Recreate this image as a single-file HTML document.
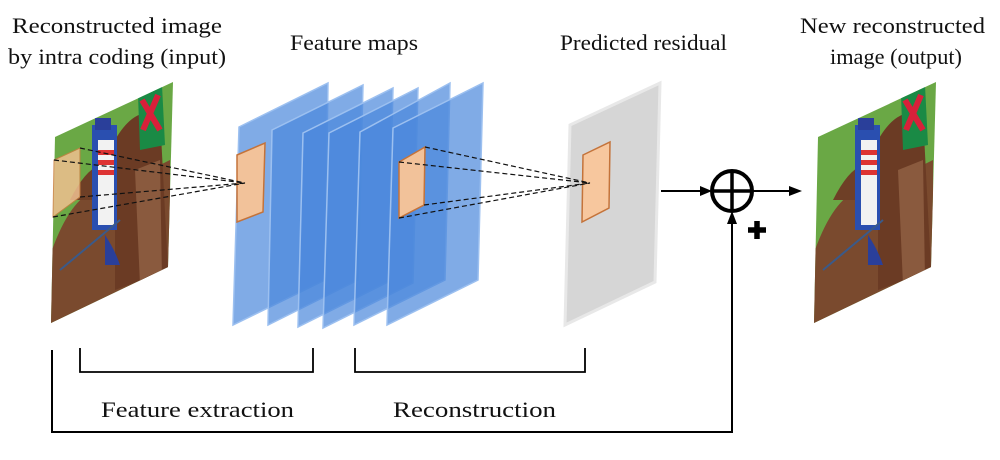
<!DOCTYPE html>
<html><head><meta charset="utf-8"><style>
html,body{margin:0;padding:0;background:#fff;}
svg{display:block;}
text{font-family:"Liberation Serif",serif;font-size:22px;fill:#111;}
</style></head><body>
<svg width="1000" height="460" viewBox="0 0 1000 460" xmlns="http://www.w3.org/2000/svg">
<defs>
<clipPath id="pc"><polygon points="55,137 173,82 168,267 51,323"/></clipPath>
<g id="img">
<g clip-path="url(#pc)">
<rect x="40" y="70" width="150" height="270" fill="#6aa845"/>
<path d="M52,250 Q70,200 95,190 L120,185 L170,160 L170,330 L50,330 Z" fill="#7a4a2e"/>
<path d="M70,200 Q85,170 100,165 L100,200 Z" fill="#6e3f26"/>
<path d="M115,140 Q135,105 160,115 L168,270 L115,290 Z" fill="#6b3b24"/>
<path d="M135,170 L160,160 L162,280 L140,285 Z" fill="#8a5a3e"/>
<rect x="92" y="125" width="25" height="105" fill="#2a4fb0"/>
<rect x="98" y="140" width="16" height="85" fill="#f2f2f2"/>
<rect x="98" y="150" width="16" height="5" fill="#d33"/>
<rect x="98" y="160" width="16" height="5" fill="#d33"/>
<rect x="98" y="170" width="16" height="5" fill="#d33"/>
<rect x="95" y="118" width="16" height="12" fill="#2a3f9a"/>
<path d="M138,95 L162,85 L165,145 L140,150 Z" fill="#1a8a45"/>
<path d="M142,100 L160,130 M158,95 L143,130" stroke="#d8203a" stroke-width="6"/>
<path d="M105,235 Q115,250 120,265 L105,265 Z" fill="#2a3f9a"/>
<path d="M60,270 L120,220" stroke="#3a5a8a" stroke-width="2"/>
</g>
</g>
</defs>

<text x="12" y="33" textLength="210" lengthAdjust="spacingAndGlyphs">Reconstructed image</text>
<text x="8" y="64" textLength="218" lengthAdjust="spacingAndGlyphs">by intra coding (input)</text>
<text x="290" y="50" textLength="128" lengthAdjust="spacingAndGlyphs">Feature maps</text>
<text x="560" y="50" textLength="167" lengthAdjust="spacingAndGlyphs">Predicted residual</text>
<text x="800" y="33" textLength="185" lengthAdjust="spacingAndGlyphs">New reconstructed</text>
<text x="830" y="64" textLength="132" lengthAdjust="spacingAndGlyphs">image (output)</text>

<use href="#img"/>
<polygon points="54,160 80,148 80,197 53,217" fill="#f0c090" opacity="0.85" stroke="#c98040" stroke-width="1"/>

<g fill="#4a88dc" fill-opacity="0.7" stroke="#9cc0f0" stroke-width="1.5">
<polygon points="239,127 328,83 325,280 233,325"/>
<polygon points="272,130 363,85 358,280 268,325"/>
<polygon points="303,133 393,88 388,282 298,327"/>
<polygon points="329,133 418,88 413,283 323,328"/>
<polygon points="360,132 450,83 445,280 354,325"/>
<polygon points="393,128 483,83 478,280 387,325"/>
</g>
<polygon points="237,155 265,143 263,212 237,222" fill="#f2c29a" stroke="#c4733a" stroke-width="1.5"/>
<polygon points="399,162 425,147 424,205 399,218" fill="#f2c29a" stroke="#c4733a" stroke-width="1.5"/>

<polygon points="570,125 660,83 655,282 565,325" fill="#d6d6d6" stroke="#e8e8e8" stroke-width="3"/>
<polygon points="583,155 610,142 609,208 582,222" fill="#f7c79e" stroke="#c4733a" stroke-width="1.5"/>

<g stroke="#111" stroke-width="1.2" stroke-dasharray="5,3" fill="none">
<path d="M80,148 L245,183 M54,160 L245,183 M80,197 L245,183 M53,217 L245,183"/>
<path d="M425,147 L590,183 M399,162 L590,183 M424,205 L590,183 M399,218 L590,183"/>
</g>

<g stroke="#000" stroke-width="2" fill="none">
<line x1="661" y1="191" x2="702" y2="191"/>
<line x1="752" y1="191" x2="790" y2="191"/>
<circle cx="732" cy="191" r="20" stroke-width="4"/>
<line x1="732" y1="171" x2="732" y2="211" stroke-width="3.5"/>
<line x1="712" y1="191" x2="752" y2="191" stroke-width="3.5"/>
<polyline points="52,350 52,432 732,432 732,224"/>
</g>
<polygon points="712,191 700,186 700,196" fill="#000"/>
<polygon points="802,191 789,186 789,196" fill="#000"/>
<polygon points="732,211 727,224 737,224" fill="#000"/>
<path d="M757,221 V239 M748,230 H766" stroke="#000" stroke-width="5.5"/>

<use href="#img" transform="translate(763,0)"/>

<g stroke="#000" stroke-width="1.8" fill="none">
<path d="M80,348 V372 H313 V348"/>
<path d="M355,348 V372 H585 V348"/>
</g>
<text x="101" y="417" textLength="193" lengthAdjust="spacingAndGlyphs">Feature extraction</text>
<text x="393" y="417" textLength="163" lengthAdjust="spacingAndGlyphs">Reconstruction</text>
</svg>
</body></html>
